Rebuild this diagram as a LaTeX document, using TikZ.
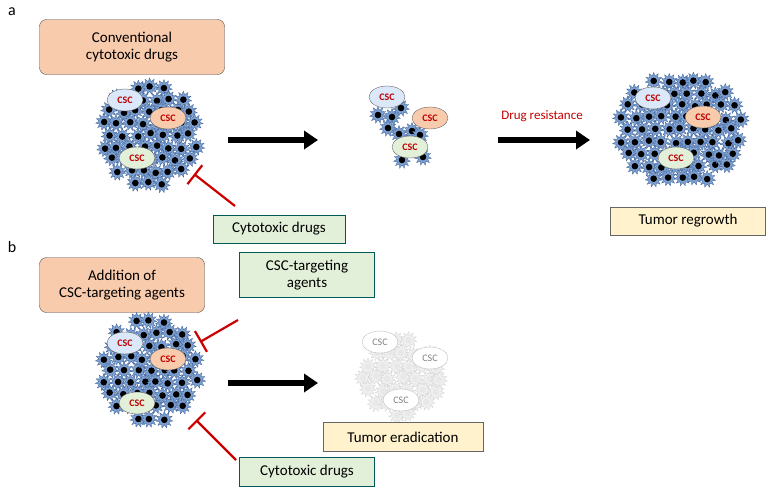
\documentclass[tikz,border=0pt]{standalone}
\usepackage{fontspec}
\setmainfont{Carlito}
\usetikzlibrary{shapes.geometric,arrows.meta}
\definecolor{cellblue}{RGB}{125,160,210}
\definecolor{celledge}{RGB}{60,95,150}
\definecolor{fadecell}{RGB}{240,240,240}
\definecolor{fadeedge}{RGB}{210,210,210}
\definecolor{fadenuc}{RGB}{232,232,232}
\definecolor{orfill}{RGB}{248,203,173}
\definecolor{grfill}{RGB}{226,240,217}
\definecolor{yefill}{RGB}{255,242,204}
\definecolor{blfill}{RGB}{218,232,250}
\definecolor{cscred}{RGB}{192,0,0}
\tikzset{
 box/.style={draw=black!70,align=center,font=\fontsize{15}{17}\selectfont,inner sep=3pt},
 obox/.style={box,fill=orfill,rounded corners=7pt},
 gbox/.style={box,fill=grfill,draw=teal!70!black},
 ybox/.style={box,fill=yefill,draw=black!60},
 csc/.style={ellipse,draw=black!60,minimum width=36pt,minimum height=22pt,inner sep=0pt,font=\fontsize{10}{12}\selectfont\bfseries,text=cscred},
 fcsc/.style={ellipse,draw=black!25,fill=white,minimum width=36pt,minimum height=22pt,inner sep=0pt,font=\fontsize{10}{12}\selectfont,text=black!50},
 big/.style={-{Triangle[length=14pt,width=18pt]},line width=6pt},
 inhib/.style={-{Bar[width=24pt]},draw=red!80!black,line width=2.2pt},
 cell/.style={star,star points=11,star point ratio=1.7,minimum size=17pt,inner sep=0pt,line width=0.3pt},
}
\newcommand{\mycluster}[7]{% cx cy rx ry fill edge nucleus
 \foreach \i in {-6,...,6}{\foreach \j in {-6,...,6}{
  \pgfmathsetmacro{\px}{#1+\i*13+mod(\j,2)*6.5+rnd*4-2}
  \pgfmathsetmacro{\py}{#2+\j*12+rnd*4-2}
  \pgfmathsetmacro{\dd}{((\px-#1)/#3)^2+((\py-#2)/#4)^2}
  \ifdim\dd pt<1pt
   \node[cell,fill=#5,draw=#6] at (\px,\py) {};
   \fill[#7] (\px,\py) circle (3.3);
  \fi}}}
\begin{document}
\begin{tikzpicture}[x=1pt,y=-1pt]
\useasboundingbox (0,0) rectangle (773,493);
\pgfmathsetseed{7}
\node[font=\fontsize{16}{18}\selectfont] (la) at (12,12) {a};
\node[font=\fontsize{16}{18}\selectfont] (lb) at (12,247) {b};
% panel a
\node[obox,minimum width=185pt,minimum height=55pt] (b1) at (132,47) {Conventional\\cytotoxic drugs};
\mycluster{150}{135}{52}{52}{cellblue}{celledge}{black}
\node[csc,fill=blfill] (c1) at (125,100) {CSC};
\node[csc,fill=orfill] (c2) at (168,118) {CSC};
\node[csc,fill=grfill] (c3) at (137,158) {CSC};
\coordinate (a1s) at (228,140); \coordinate (a1e) at (318,140);
\draw[big] (a1s) -- (a1e);
\node[gbox,minimum width=132pt,minimum height=28pt] (cd1) at (279,229) {Cytotoxic drugs};
\coordinate (i1) at (194,174);
\draw[inhib] (235,206) -- (i1);
% small cluster
\foreach \p in {(378,115),(392,117),(401,108),(412,131),(399,134),(420,135),(402,160),(423,157),(388,128)}
 {\node[cell,fill=cellblue,draw=celledge] at \p {}; \fill[black] \p circle (3.3);}
\node[csc,fill=blfill] (s1) at (387,97) {CSC};
\node[csc,fill=orfill] (s2) at (430,118) {CSC};
\node[csc,fill=grfill] (s3) at (410,147) {CSC};
\node[text=cscred,font=\fontsize{13}{15}\selectfont] (dr) at (542,116) {Drug resistance};
\coordinate (a2s) at (498,140); \coordinate (a2e) at (590,140);
\draw[big] (a2s) -- (a2e);
\mycluster{681}{130}{63}{56}{cellblue}{celledge}{black}
\node[csc,fill=blfill] (r1) at (653,98) {CSC};
\node[csc,fill=orfill] (r2) at (703,117) {CSC};
\node[csc,fill=grfill] (r3) at (676,158) {CSC};
\node[ybox,minimum width=155pt,minimum height=28pt] (tr) at (688,221) {Tumor regrowth};
% panel b
\node[obox,minimum width=165pt,minimum height=55pt] (b2) at (122,285) {Addition of\\CSC-targeting agents};
\node[gbox,minimum width=135pt,minimum height=45pt] (ca) at (307,275) {CSC-targeting\\agents};
\mycluster{150}{370}{52}{52}{cellblue}{celledge}{black}
\node[csc,fill=blfill] (d1) at (125,343) {CSC};
\node[csc,fill=orfill] (d2) at (168,359) {CSC};
\node[csc,fill=grfill] (d3) at (137,403) {CSC};
\coordinate (i2) at (200,342); \coordinate (i3) at (196,420);
\draw[inhib] (238,320) -- (i2);
\draw[inhib] (236,460) -- (i3);
\coordinate (a3s) at (228,383); \coordinate (a3e) at (318,383);
\draw[big] (a3s) -- (a3e);
\mycluster{402}{378}{45}{40}{fadecell}{fadeedge}{fadenuc}
\node[fcsc] (e1) at (380,342) {CSC};
\node[fcsc] (e2) at (430,358) {CSC};
\node[fcsc] (e3) at (401,400) {CSC};
\node[ybox,minimum width=160pt,minimum height=29pt] (te) at (403,437) {Tumor eradication};
\node[gbox,minimum width=135pt,minimum height=29pt] (cd2) at (307,472) {Cytotoxic drugs};
\end{tikzpicture}
\end{document}
